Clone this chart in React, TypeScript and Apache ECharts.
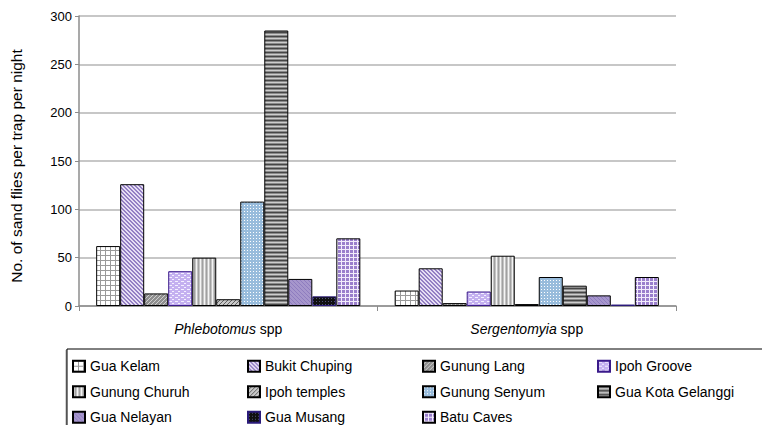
import React, { useEffect, useRef } from 'react';
import * as echarts from 'echarts';

// Genus groups on the x axis
const categories = ['Phlebotomus spp', 'Sergentomyia spp'];

// Sand flies per trap per night, [Phlebotomus, Sergentomyia]
const siteNames = [
  'Gua Kelam',
  'Bukit Chuping',
  'Gunung Lang',
  'Ipoh Groove',
  'Gunung Churuh',
  'Ipoh temples',
  'Gunung Senyum',
  'Gua Kota Gelanggi',
  'Gua Nelayan',
  'Gua Musang',
  'Batu Caves',
];
const guaKelam = [62, 16];
const bukitChuping = [126, 39];
const gunungLang = [13, 3];
const ipohGroove = [36, 15];
const gunungChuruh = [50, 52];
const ipohTemples = [7, 2];
const gunungSenyum = [108, 30];
const guaKotaGelanggi = [285, 21];
const guaNelayan = [28, 11];
const guaMusang = [10, 1.5];
const batuCaves = [70, 30];

const yTicks = { min: 0, max: 300, interval: 50 };

type Painter = (ctx: CanvasRenderingContext2D) => void;

function tile(w: number, h: number, bg: string, paint: Painter) {
  const c = document.createElement('canvas');
  c.width = w;
  c.height = h;
  const ctx = c.getContext('2d') as CanvasRenderingContext2D;
  ctx.fillStyle = bg;
  ctx.fillRect(0, 0, w, h);
  paint(ctx);
  return { image: c, repeat: 'repeat', imageWidth: w, imageHeight: h } as any;
}

function px(ctx: CanvasRenderingContext2D, color: string, pts: number[][]) {
  ctx.fillStyle = color;
  pts.forEach(([x, y]) => ctx.fillRect(x, y, 1, 1));
}

function buildFills() {
  return [
    // grid
    tile(5, 5, '#ffffff', (ctx) => {
      ctx.fillStyle = '#9a9a9a';
      ctx.fillRect(0, 0, 5, 1);
      ctx.fillRect(0, 0, 1, 5);
    }),
    // back-diagonal stripes
    tile(4, 4, '#e6def4', (ctx) => {
      px(ctx, '#9480c4', [[0, 2], [1, 3], [2, 0], [3, 1], [0, 3], [1, 0], [2, 1], [3, 2]]);
    }),
    // diagonal hatch
    tile(4, 4, '#8e8e8e', (ctx) => {
      px(ctx, '#cfcfcf', [[3, 0], [2, 1], [1, 2], [0, 3]]);
    }),
    // dashes
    tile(6, 4, '#c4b0f0', (ctx) => {
      ctx.fillStyle = '#f4f0ff';
      ctx.fillRect(1, 1, 3, 1);
      ctx.fillRect(4, 3, 2, 1);
    }),
    // vertical stripes
    tile(4, 1, '#c4c4c4', (ctx) => {
      px(ctx, '#f4f4f4', [[0, 0]]);
      px(ctx, '#a0a0a0', [[2, 0]]);
    }),
    // diagonal stripes
    tile(4, 4, '#c8c8c8', (ctx) => {
      px(ctx, '#606060', [[3, 0], [2, 1], [1, 2], [0, 3]]);
    }),
    // dots
    tile(3, 3, '#98bcdc', (ctx) => {
      px(ctx, '#ffffff', [[1, 1]]);
    }),
    // horizontal stripes
    tile(1, 4, '#8a8a8a', (ctx) => {
      px(ctx, '#464646', [[0, 0]]);
      px(ctx, '#cdcdcd', [[0, 2]]);
    }),
    // soft diagonal
    tile(4, 4, '#a696cc', (ctx) => {
      px(ctx, '#8e7cbf', [[0, 0], [1, 1], [2, 2], [3, 3]]);
    }),
    // dark dots
    tile(3, 3, '#101010', (ctx) => {
      px(ctx, '#50507a', [[1, 1]]);
    }),
    // plaid
    tile(4, 4, '#9a7fcc', (ctx) => {
      ctx.fillStyle = '#f2ecfb';
      ctx.fillRect(0, 1, 4, 1);
      ctx.fillRect(1, 0, 1, 4);
    }),
  ];
}

const borders = [
  '#000', '#000', '#000', '#3a1a8a', '#000', '#000', '#000', '#000', '#000', '#2a1a7a', '#000',
];

export default function App() {
  const ref = useRef<HTMLDivElement>(null);

  useEffect(() => {
    if (!ref.current) return;
    const chart = echarts.init(ref.current, null, { renderer: 'svg' });
    const fills = buildFills();
    const values = [
      guaKelam, bukitChuping, gunungLang, ipohGroove, gunungChuruh, ipohTemples,
      gunungSenyum, guaKotaGelanggi, guaNelayan, guaMusang, batuCaves,
    ];
    const font = 'Liberation Sans, Arial, sans-serif';

    chart.setOption({
      animation: false,
      backgroundColor: '#ffffff',
      textStyle: { fontFamily: font },
      grid: { left: 71, right: 86, top: 16, bottom: 119, containLabel: false },
      xAxis: {
        type: 'category',
        data: categories,
        axisLine: { lineStyle: { color: '#8c8c8c', width: 1.5 } },
        axisTick: { show: true, length: 5, lineStyle: { color: '#8c8c8c' } },
        axisLabel: {
          margin: 16,
          color: '#000',
          fontSize: 14,
          fontFamily: font,
          formatter: (v: string) => {
            const [genus, ...rest] = v.split(' ');
            return `{i|${genus}} ${rest.join(' ')}`;
          },
          rich: { i: { fontStyle: 'italic', fontSize: 14, fontFamily: font, color: '#000' } },
        },
      },
      yAxis: {
        type: 'value',
        min: yTicks.min,
        max: yTicks.max,
        interval: yTicks.interval,
        name: 'No. of sand flies per trap per night',
        nameLocation: 'middle',
        nameGap: 55,
        nameTextStyle: { color: '#000', fontSize: 15.5, fontFamily: font, padding: [0, 10, 0, 0] },
        axisLine: { show: true, lineStyle: { color: '#8c8c8c', width: 1.5 } },
        axisTick: { show: true, length: 4, lineStyle: { color: '#8c8c8c' } },
        axisLabel: { color: '#000', fontSize: 13, margin: 7, fontFamily: font },
        splitLine: { lineStyle: { color: '#b4b4b4', width: 1.5 } },
      },
      legend: {
        left: 67,
        top: 349,
        width: 710,
        orient: 'horizontal',
        align: 'left',
        icon: 'rect',
        itemWidth: 12,
        itemHeight: 11,
        itemGap: 9,
        padding: [9, 120, 8, 5],
        borderColor: '#000',
        borderWidth: 1,
        backgroundColor: '#fff',
        shadowColor: 'rgba(0,0,0,0.35)',
        shadowOffsetX: -1,
        shadowOffsetY: 1,
        shadowBlur: 1,
        textStyle: { color: '#000', fontSize: 14, fontFamily: font, width: 148, lineHeight: 16.5 },
        data: siteNames,
      },
      series: siteNames.map((name, i) => ({
        name,
        type: 'bar',
        data: values[i],
        barGap: '0%',
        barCategoryGap: '11.5%',
        itemStyle: { color: fills[i], borderColor: borders[i], borderWidth: 1 },
      })),
    });

    return () => chart.dispose();
  }, []);

  return (
    <div
      ref={ref}
      style={{ position: 'fixed', left: 0, top: 0, width: 762, height: 425, background: '#fff' }}
    />
  );
}
